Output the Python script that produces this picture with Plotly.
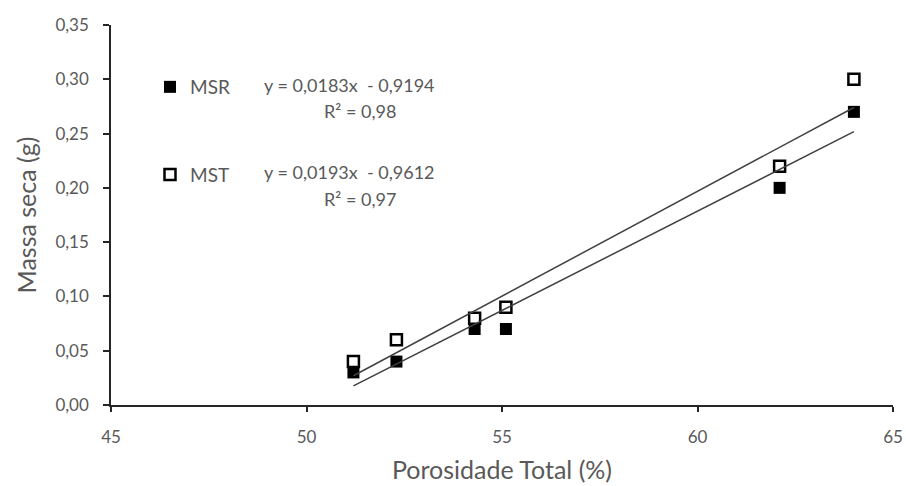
import plotly.graph_objects as go

porosidade = [51.2, 52.3, 54.3, 55.1, 62.1, 64.0]
msr = [0.03, 0.04, 0.07, 0.07, 0.20, 0.27]
mst = [0.04, 0.06, 0.08, 0.09, 0.22, 0.30]
x_ticks = [45, 50, 55, 60, 65]
y_ticks = [0.00, 0.05, 0.10, 0.15, 0.20, 0.25, 0.30, 0.35]
msr_coef = (0.0183, -0.9194)
mst_coef = (0.0193, -0.9612)
msr_eq = "y = 0,0183x  - 0,9194"
msr_r2 = "R² = 0,98"
mst_eq = "y = 0,0193x  - 0,9612"
mst_r2 = "R² = 0,97"

FONT = "Lato"
GRAY = "#595959"

fig = go.Figure()
fig.add_trace(go.Scatter(
    x=porosidade, y=msr, mode="markers", name="MSR", legendgroup="a",
    marker=dict(symbol="square", size=12, color="black", line=dict(width=0)),
))
fig.add_trace(go.Scatter(
    x=porosidade, y=mst, mode="markers", name="MST", legendgroup="b",
    marker=dict(symbol="square", size=11, color="white", line=dict(width=2.5, color="black")),
))
xs = [min(porosidade), max(porosidade)]
for a, b in (msr_coef, mst_coef):
    fig.add_trace(go.Scatter(
        x=xs, y=[a * v + b for v in xs], mode="lines", showlegend=False,
        line=dict(color="#404040", width=1.5), hoverinfo="skip",
    ))

def ann(text, x, y, xanchor, size=18):
    fig.add_annotation(text=text, xref="paper", yref="paper", x=x, y=y,
                       xanchor=xanchor, yanchor="middle", showarrow=False,
                       font=dict(family=FONT, size=size, color=GRAY))

W, H = 782.0, 380.0
def px(x):
    return (x - 111) / W
def py(y):
    return (405 - y) / H

ann(msr_eq, px(349), py(85), "center")
ann(msr_r2, px(360), py(111), "center")
ann(mst_eq, px(349), py(172), "center")
ann(mst_r2, px(360), py(199), "center")

fig.update_layout(
    width=906, height=486,
    margin=dict(l=111, r=13, t=25, b=81),
    paper_bgcolor="white", plot_bgcolor="white",
    separators=",.",
    font=dict(family=FONT, size=17, color=GRAY),
    showlegend=True,
    legend=dict(x=px(150), y=py(68), xanchor="left", yanchor="top",
                bgcolor="rgba(0,0,0,0)", tracegroupgap=60,
                font=dict(family=FONT, size=19, color=GRAY),
                itemwidth=30),
    xaxis=dict(
        range=[45, 65], tickvals=x_ticks, showgrid=False, zeroline=False,
        showline=True, linecolor="#262626", linewidth=1.5, automargin=False,
        ticks="outside", ticklen=5, tickcolor="#262626", tickwidth=1.5,
        ticklabelstandoff=11, tickfont=dict(family=FONT, size=17, color=GRAY),
        title=dict(text="Porosidade Total (%)", font=dict(family=FONT, size=25, color=GRAY), standoff=15),
    ),
    yaxis=dict(
        range=[0, 0.35], tickvals=y_ticks, tickformat=".2f", showgrid=False, zeroline=False,
        showline=True, linecolor="#262626", linewidth=1.5, automargin=False,
        ticks="outside", ticklen=6, tickcolor="#262626", tickwidth=1.5,
        ticklabelstandoff=11, tickfont=dict(family=FONT, size=17, color=GRAY),
        title=dict(text="Massa seca (g)", font=dict(family=FONT, size=25, color=GRAY), standoff=12),
    ),
)

fig.write_html("out.html")
